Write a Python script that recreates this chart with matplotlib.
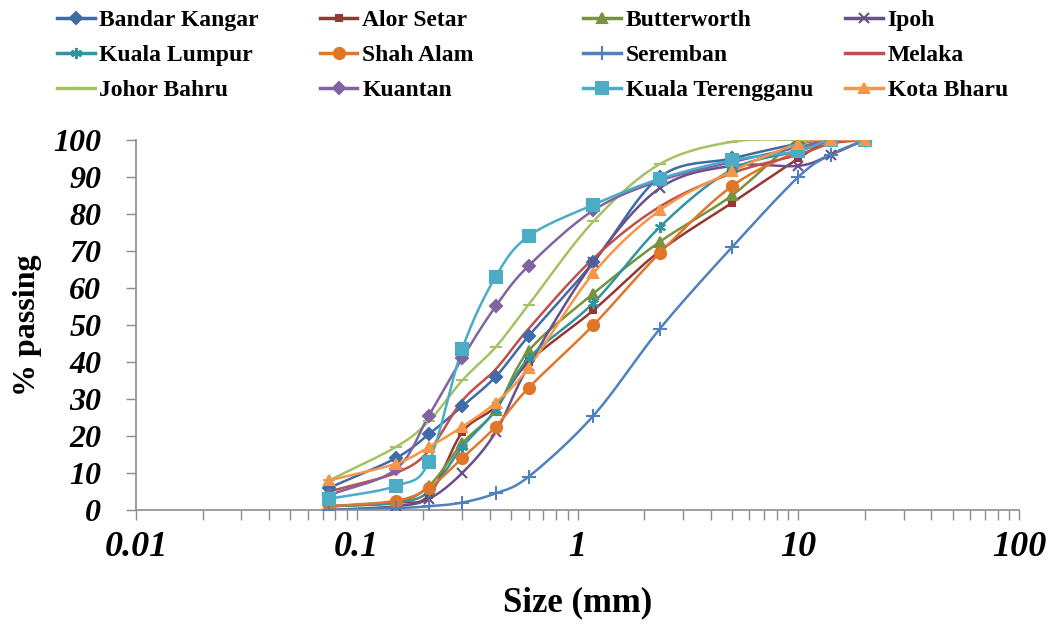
import matplotlib
matplotlib.use("Agg")
import matplotlib.pyplot as plt
import matplotlib.ticker as mticker
from matplotlib.lines import Line2D
import numpy as np

# sieve sizes (mm)
sizes = [0.075, 0.15, 0.212, 0.3, 0.425, 0.6, 1.18, 2.36, 5, 10, 14, 20]

# % passing for each location
bandar_kangar = [6, 14, 20.5, 28, 36, 47, 67, 90, 95, 99, 100, 100]
alor_setar = [1, 2, 4, 21, 28, 40, 54, 70, 83, 95, 100, 100]
butterworth = [1, 2, 6.5, 18, 27, 43, 58.5, 72.5, 85, 100, 100, 100]
ipoh = [0, 1, 3, 10, 21, 39, 67, 87, 93, 93, 96, 100]
kuala_lumpur = [1, 2, 5, 17, 27, 41, 56, 76.5, 92, 97, 100, 100]
shah_alam = [1, 2.5, 6, 14, 22.5, 33, 50, 69.5, 87.5, 97, 100, 100]
seremban = [0, 0.5, 1, 2, 4.5, 9, 25.5, 49, 71, 90, 96, 100]
melaka = [5, 10, 16, 29.5, 38, 49, 68, 82, 91, 96, 99, 100]
johor_bahru = [8, 17, 24, 35, 44, 55.5, 78, 93.5, 99.5, 100, 100, 100]
kuantan = [4, 11, 25.5, 41, 55, 66, 81, 89, 94, 98, 100, 100]
kuala_terengganu = [3, 6.5, 13, 43.5, 63, 74, 82.5, 89.5, 94.5, 97, 100, 100]
kota_bharu = [8, 12.5, 17, 22.5, 29, 38.5, 64, 81, 91.5, 99, 100, 100]

names = ["Bandar Kangar", "Alor Setar", "Butterworth", "Ipoh",
         "Kuala Lumpur", "Shah Alam", "Seremban", "Melaka",
         "Johor Bahru", "Kuantan", "Kuala Terengganu", "Kota Bharu"]
series = [bandar_kangar, alor_setar, butterworth, ipoh,
          kuala_lumpur, shah_alam, seremban, melaka,
          johor_bahru, kuantan, kuala_terengganu, kota_bharu]
colors = ["#3F6BA6", "#953735", "#77933C", "#6A4F8A",
          "#31949F", "#E0762A", "#4F81BD", "#C0504D",
          "#A5C266", "#8064A2", "#4BACC6", "#F79646"]
markers = ["D", "s", "^", "x", (6, 2, 0), "o", "+", "None",
           "_", "D", "s", "^"]
msizes = [6, 5, 7, 7, 8, 8, 10, 0, 8, 6, 8, 7]


def smooth(x, y, n=20):
    # catmull-rom through the points, in log-x space like excel's smoothed lines
    lx = np.log10(x)
    y = np.asarray(y, float)
    px = np.concatenate([[2 * lx[0] - lx[1]], lx, [2 * lx[-1] - lx[-2]]])
    py = np.concatenate([[2 * y[0] - y[1]], y, [2 * y[-1] - y[-2]]])
    t = np.linspace(0, 1, n, endpoint=False)
    ox, oy = [], []
    for i in range(1, len(px) - 2):
        for p, out in ((px, ox), (py, oy)):
            p0, p1, p2, p3 = p[i - 1], p[i], p[i + 1], p[i + 2]
            out.extend(0.5 * (2 * p1 + (-p0 + p2) * t
                              + (2 * p0 - 5 * p1 + 4 * p2 - p3) * t ** 2
                              + (-p0 + 3 * p1 - 3 * p2 + p3) * t ** 3))
    ox.append(lx[-1])
    oy.append(y[-1])
    return 10 ** np.array(ox), np.array(oy)


plt.rcParams["font.family"] = "Liberation Serif"

fig = plt.figure(figsize=(10.55, 6.23), dpi=100)
ax = fig.add_axes([0.129, 0.1814, 0.837, 0.594])

handles = []
for name, vals, c, m, ms in zip(names, series, colors, markers, msizes):
    sx, sy = smooth(sizes, vals)
    ax.plot(sx, sy, color=c, lw=1.8, zorder=2)
    if m != "None":
        ax.plot(sizes, vals, ls="none", marker=m, ms=ms, color=c,
                mec=c, mew=1.5, zorder=3)
    handles.append(Line2D([], [], color=c, lw=2.5, marker=m, ms=ms,
                          mec=c, mew=1.5))

ax.set_xscale("log")
ax.set_xlim(0.01, 100)
ax.set_ylim(0, 100)
ax.xaxis.set_major_locator(mticker.LogLocator(base=10))
ax.xaxis.set_minor_locator(mticker.LogLocator(base=10, subs=np.arange(2, 10)))
ax.xaxis.set_minor_formatter(mticker.NullFormatter())
ax.xaxis.set_major_formatter(mticker.FuncFormatter(lambda v, p: f"{v:g}"))
ax.set_yticks(np.arange(0, 101, 10))

for s in ["top", "right"]:
    ax.spines[s].set_visible(False)
for s in ["left", "bottom"]:
    ax.spines[s].set_color("#8C8C8C")
    ax.spines[s].set_linewidth(1.2)

ax.tick_params(axis="both", which="both", direction="out", color="#8C8C8C",
               width=1)
ax.tick_params(axis="x", which="major", length=7, pad=8)
ax.tick_params(axis="x", which="minor", length=7)
ax.tick_params(axis="y", length=7, pad=18)
for lab in ax.get_xticklabels():
    lab.set_fontsize(26)
    lab.set_fontweight("bold")
    lab.set_fontstyle("italic")
for lab in ax.get_yticklabels():
    lab.set_fontsize(23)
    lab.set_fontweight("bold")
    lab.set_fontstyle("italic")

ax.set_xlabel("Size (mm)", fontsize=25, fontweight="bold", labelpad=16)
ax.set_ylabel("% passing", fontsize=23, fontweight="bold", labelpad=8)

# legend laid out like excel: 4 evenly spaced columns, filled row by row
col_x = [0.054, 0.303, 0.553, 0.801]
for ci in range(4):
    idx = [ci, ci + 4, ci + 8]
    fig.legend([handles[i] for i in idx], [names[i] for i in idx],
               loc="upper left", bbox_to_anchor=(col_x[ci], 0.984),
               frameon=False, prop={"weight": "bold", "size": 17},
               handlelength=1.6, handletextpad=0.2, labelspacing=0.57,
               borderpad=0.0, borderaxespad=0.0)

fig.savefig("out.png", dpi=100)
